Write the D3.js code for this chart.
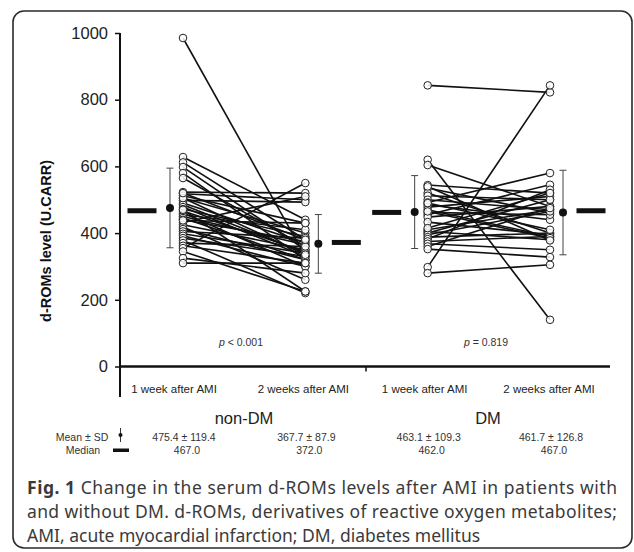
<!DOCTYPE html>
<html>
<head>
<meta charset="utf-8">
<script src="https://cdn.jsdelivr.net/npm/d3@7"></script>
<style>
  html, body { margin: 0; padding: 0; background: #fff; }
  svg { display: block; }
  .caption { font-family: "Noto Sans", "Open Sans", sans-serif; fill: #3a3a3a; }
</style>
</head>
<body>
<svg id="chart" width="634" height="552"></svg>
<script>
// ---------- data ----------
const groups = ["non-DM", "DM"];
const timepoints = ["1 week after AMI", "2 weeks after AMI"];
const yTicks = [0, 200, 400, 600, 800, 1000];

// paired d-ROMs values [1 week, 2 weeks] per patient
const nonDMPairs = [
  [985, 330], [628, 440], [612, 380], [598, 350], [580, 320], [565, 360],
  [523, 520], [518, 500], [512, 430], [505, 400], [498, 493], [490, 370],
  [485, 340], [478, 330], [472, 390], [466, 345], [460, 300], [455, 410],
  [450, 365], [445, 320], [440, 375], [432, 510], [425, 350], [418, 260],
  [412, 320], [405, 385], [398, 340], [392, 300], [385, 330], [378, 220],
  [370, 360], [362, 310], [355, 550], [345, 225], [325, 280], [310, 310],
  [438, 430], [470, 225], [505, 335], [520, 380]
];
const dmPairs = [
  [843, 822], [298, 843], [620, 140], [604, 480], [544, 520], [535, 460],
  [520, 400], [512, 500], [500, 470], [492, 580], [485, 440], [478, 510],
  [470, 390], [462, 455], [455, 545], [448, 480], [433, 395], [410, 470],
  [405, 380], [400, 500], [395, 465], [388, 400], [382, 530], [375, 390],
  [368, 350], [360, 475], [352, 328], [280, 305], [465, 385], [490, 410],
  [415, 520], [540, 378]
];

// summary stats per column (non-DM w1, non-DM w2, DM w1, DM w2)
const means   = [475.4, 367.7, 463.1, 461.7];
const sds     = [119.4, 87.9, 109.3, 126.8];
const medians = [467.0, 372.0, 462.0, 467.0];
const pLabels = ["< 0.001", "= 0.819"];

// ---------- layout ----------
const svg = d3.select("#chart");
const font = "Liberation Sans, Arial, Helvetica, sans-serif";

// rounded frame
svg.append("rect")
  .attr("x", 13).attr("y", 11).attr("width", 619).attr("height", 537)
  .attr("rx", 11).attr("ry", 11)
  .attr("fill", "none").attr("stroke", "#2a2a2a").attr("stroke-width", 1.6);

const columns = ["nd1", "nd2", "d1", "d2"];
const x = d3.scalePoint().domain(columns).range([183, 550]);
const y = d3.scaleLinear().domain([0, 1000]).range([366.5, 33]);

const xLeft = 120, xRight = 610;

// ---------- y axis ----------
const yAxis = svg.append("g")
  .attr("transform", `translate(${xLeft},0)`)
  .call(d3.axisLeft(y).tickValues(yTicks).tickSize(5).tickPadding(7).tickFormat(d3.format("d")));
yAxis.select(".domain").remove();
yAxis.selectAll(".tick line").attr("stroke", "#111").attr("stroke-width", 1.5);
yAxis.selectAll(".tick text")
  .attr("font-family", font).attr("font-size", 16.5).attr("fill", "#222");

// vertical axis line, carried on below zero as in the original
svg.append("line")
  .attr("x1", xLeft).attr("x2", xLeft)
  .attr("y1", y(1000)).attr("y2", 397)
  .attr("stroke", "#111").attr("stroke-width", 2);

// baseline
svg.append("line")
  .attr("x1", xLeft).attr("x2", xRight)
  .attr("y1", y(0)).attr("y2", y(0))
  .attr("stroke", "#111").attr("stroke-width", 2.4);
// group divider tick
svg.append("line")
  .attr("x1", 366).attr("x2", 366)
  .attr("y1", y(0)).attr("y2", y(0) + 5)
  .attr("stroke", "#111").attr("stroke-width", 1.5);

// y title
svg.append("text")
  .attr("transform", `translate(51,241) rotate(-90)`)
  .attr("text-anchor", "middle")
  .attr("font-family", font).attr("font-weight", "bold").attr("font-size", 14.5)
  .attr("fill", "#111")
  .text("d-ROMs level (U.CARR)");

// ---------- paired lines & points ----------
function drawPairs(pairs, c1, c2) {
  const g = svg.append("g");
  g.selectAll("line")
    .data(pairs)
    .enter().append("line")
    .attr("x1", x(c1)).attr("x2", x(c2))
    .attr("y1", (d) => y(d[0])).attr("y2", (d) => y(d[1]))
    .attr("stroke", "#111").attr("stroke-width", 1.6);
  [c1, c2].forEach((c, i) => {
    g.selectAll(".pt" + i)
      .data(pairs)
      .enter().append("circle")
      .attr("cx", x(c)).attr("cy", (d) => y(d[i]))
      .attr("r", 3.8)
      .attr("fill", "#fff").attr("fill-opacity", 0.85)
      .attr("stroke", "#222").attr("stroke-width", 1);
  });
}
drawPairs(nonDMPairs, "nd1", "nd2");
drawPairs(dmPairs, "d1", "d2");

// ---------- mean ± SD and median markers ----------
const side = [-1, 1, -1, 1];   // markers sit outside each pair of columns
columns.forEach((c, i) => {
  const mx = x(c) + side[i] * 13;
  const bx = x(c) + side[i] * 41;
  const g = svg.append("g");
  g.append("line")
    .attr("x1", mx).attr("x2", mx)
    .attr("y1", y(means[i] - sds[i])).attr("y2", y(means[i] + sds[i]))
    .attr("stroke", "#444").attr("stroke-width", 1);
  [means[i] - sds[i], means[i] + sds[i]].forEach((v) => {
    g.append("line")
      .attr("x1", mx - 3.5).attr("x2", mx + 3.5)
      .attr("y1", y(v)).attr("y2", y(v))
      .attr("stroke", "#444").attr("stroke-width", 1);
  });
  g.append("circle")
    .attr("cx", mx).attr("cy", y(means[i])).attr("r", 4)
    .attr("fill", "#111");
  g.append("rect")
    .attr("x", bx - 14.5).attr("y", y(medians[i]) - 2.5)
    .attr("width", 29).attr("height", 5)
    .attr("fill", "#111");
});

// ---------- p values ----------
const pX = [241, 486];
pLabels.forEach((p, i) => {
  const t = svg.append("text")
    .attr("x", pX[i]).attr("y", 346)
    .attr("text-anchor", "middle")
    .attr("font-family", font).attr("font-size", 10.5).attr("fill", "#333");
  t.append("tspan").attr("font-style", "italic").text("p");
  t.append("tspan").text(" " + p);
});

// ---------- category labels ----------
const catOffset = [-9, -2, -3, -1];
columns.forEach((c, i) => {
  svg.append("text")
    .attr("x", x(c) + catOffset[i]).attr("y", 393)
    .attr("text-anchor", "middle")
    .attr("font-family", font).attr("font-size", 11.5).attr("fill", "#222")
    .text(timepoints[i % 2]);
});
groups.forEach((gname, i) => {
  svg.append("text")
    .attr("x", i === 0 ? 244 : 488).attr("y", 424)
    .attr("text-anchor", "middle")
    .attr("font-family", font).attr("font-size", 16.5).attr("fill", "#222")
    .text(gname);
});

// ---------- summary table ----------
const tableFont = 10.5;
svg.append("text").attr("x", 82).attr("y", 441).attr("text-anchor", "middle")
  .attr("font-family", font).attr("font-size", tableFont).attr("fill", "#333")
  .text("Mean ± SD");
svg.append("text").attr("x", 83).attr("y", 454).attr("text-anchor", "middle")
  .attr("font-family", font).attr("font-size", tableFont).attr("fill", "#333")
  .text("Median");
// legend glyphs
svg.append("line").attr("x1", 120.5).attr("x2", 120.5).attr("y1", 428).attr("y2", 442)
  .attr("stroke", "#333").attr("stroke-width", 1);
svg.append("circle").attr("cx", 120.5).attr("cy", 435).attr("r", 2).attr("fill", "#111");
svg.append("rect").attr("x", 113).attr("y", 448.5).attr("width", 16).attr("height", 3.5).attr("fill", "#111");

const fmt = d3.format(".1f");
columns.forEach((c, i) => {
  svg.append("text").attr("x", x(c) + 1).attr("y", 441).attr("text-anchor", "middle")
    .attr("font-family", font).attr("font-size", tableFont).attr("fill", "#333")
    .text(`${fmt(means[i])} ± ${fmt(sds[i])}`);
  svg.append("text").attr("x", x(c) + 4).attr("y", 454).attr("text-anchor", "middle")
    .attr("font-family", font).attr("font-size", tableFont).attr("fill", "#333")
    .text(fmt(medians[i]));
});

// ---------- caption ----------
// first two lines are justified to the frame width, like the journal layout
const captionLines = [
  [["Fig. 1", true], [" Change in the serum d-ROMs levels after AMI in patients with", false]],
  [["and without DM. d-ROMs, derivatives of reactive oxygen metabolites;", false]],
  [["AMI, acute myocardial infarction; DM, diabetes mellitus", false]]
];
const captionWidth = [590, 590, null];
captionLines.forEach((line, i) => {
  const t = svg.append("text")
    .attr("class", "caption")
    .attr("x", 27).attr("y", 494 + i * 24)
    .attr("font-size", 17.5);
  if (captionWidth[i]) {
    t.attr("textLength", captionWidth[i]).attr("lengthAdjust", "spacing");
  }
  line.forEach(([s, bold]) => {
    t.append("tspan").attr("font-weight", bold ? "bold" : "normal").text(s);
  });
});
</script>
</body>
</html>
